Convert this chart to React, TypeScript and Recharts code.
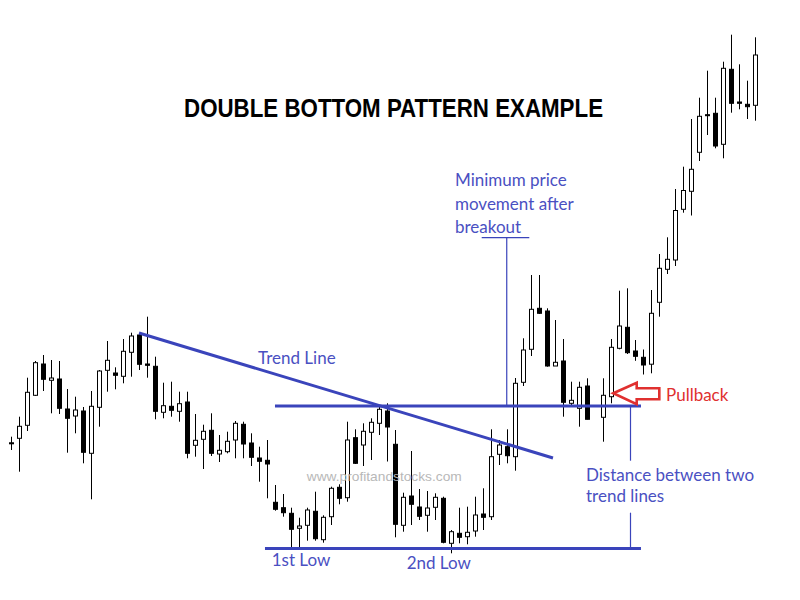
import React from 'react';
import { ComposedChart, Bar, XAxis, YAxis, ReferenceLine, ReferenceDot } from 'recharts';

const idx = [0,1,2,3,4,5,6,7,8,9,10,11,12,13,14,15,16,17,18,19,20,21,22,23,24,25,26,27,28,29,30,31,32,33,34,35,36,37,38,39,40,41,42,43,44,45,46,47,48,49,50,51,52,53,54,55,56,57,58,59,60,61,62,63,64,65,66,67,68,69,70,71,72,74,75,76,77,78,79,80,81,82,83,84,85,86,87,88,89,90,91,92,93];
const opens = [15.72,16.17,17.47,20.47,23.6,21.97,22.1,19.1,18.4,18.9,14.67,19.27,22.97,22.7,22.37,24.77,26.5,23.6,23.37,18.77,19.37,18.87,19.8,15.47,16.07,16.97,14.6,14.83,16.0,17.57,15.7,14.2,13.97,9.77,9.23,8.67,7.17,7.47,8.87,6.03,8.33,11.27,10.23,16.23,15.5,16.77,17.67,18.9,15.57,7.47,10.4,9.3,8.47,9.27,10.17,5.67,6.67,6.33,6.9,8.6,8.33,14.57,15.33,14.33,21.77,25.07,29.17,28.9,23.4,23.9,19.67,19.17,21.4,18.27,20.33,25.17,27.27,24.9,24.27,23.58,29.77,33.07,34.0,39.07,40.87,44.77,48.53,48.67,45.57,53.07,49.8,49.57,49.47];
const highs = [16.33,18.33,22.23,23.9,24.5,24.0,23.9,21.1,20.33,19.3,20.9,23.0,25.9,23.27,26.1,26.73,26.7,28.33,24.33,21.73,21.83,20.83,20.83,18.6,17.53,18.67,16.5,16.83,17.9,17.83,16.67,15.33,16.0,11.5,10.6,9.23,8.23,9.23,10.83,8.47,11.33,11.57,17.83,17.07,17.67,18.17,19.33,19.67,17.0,10.73,14.9,11.1,10.9,10.67,10.33,7.0,9.23,9.33,10.33,11.17,17.07,16.0,17.07,22.2,26.17,32.5,32.5,29.17,28.0,26.1,21.83,21.83,22.17,22.17,26.1,30.93,31.17,26.0,25.05,31.0,34.6,36.27,41.1,43.33,48.1,50.23,52.93,50.23,53.83,56.53,53.57,51.93,56.27];
const lows = [15.0,12.83,16.9,20.4,20.9,18.67,18.6,14.73,16.67,13.67,10.07,17.33,20.83,21.07,21.67,22.33,23.0,22.23,18.07,18.17,18.33,17.83,14.17,14.33,13.1,14.4,13.8,14.67,14.17,14.17,13.4,11.83,10.17,8.93,8.33,5.17,5.17,5.93,5.93,5.73,7.5,9.57,9.83,13.6,13.4,14.0,16.5,13.85,6.27,6.83,7.5,8.0,6.83,8.0,5.67,4.67,5.67,5.57,6.33,7.0,8.0,13.5,13.67,12.93,21.4,24.4,28.6,23.33,23.4,18.33,19.33,17.33,18.07,15.83,19.67,25.07,24.6,23.92,22.55,22.67,28.33,32.6,33.4,38.73,38.45,43.9,46.5,45.17,44.17,48.73,49.07,48.1,47.93];
const closes = [15.68,17.37,20.77,23.73,22.07,22.2,19.17,18.17,19.0,14.77,19.37,22.9,23.97,22.47,24.87,26.4,23.57,23.47,18.87,19.43,18.97,19.63,14.67,15.97,16.87,14.67,14.97,15.87,17.67,15.6,14.27,13.87,13.6,9.07,8.73,7.07,7.4,9.0,6.13,8.27,11.17,10.17,16.0,13.67,16.87,17.77,19.07,17.3,7.57,10.27,9.57,8.37,9.2,10.27,5.77,6.83,6.27,6.77,8.5,8.27,14.33,15.5,14.43,21.67,25.0,29.07,28.67,23.4,23.77,19.77,19.97,21.27,18.07,20.47,25.27,27.4,24.73,24.37,23.5,28.67,33.17,34.07,38.95,40.95,43.07,48.37,48.43,45.4,53.17,49.67,49.67,49.33,54.5];

const data = idx.map((i, n) => ({ i, open: opens[n], high: highs[n], low: lows[n], close: closes[n] }));

const BLUE_LINE = '#3a44bb';
const BLUE_TEXT = '#4a50c2';
const RED = '#e0302f';

function Candle(props: any) {
  const { x, y, width, height, payload } = props;
  if (!payload || x == null || y == null) return null;
  const { open, close, high, low } = payload;
  const cx = Math.round(x + width / 2) + 0.5;
  const top = Math.min(y, y + height);
  const h = Math.abs(height);
  const span = high - low || 1;
  const py = (v: number) => top + ((high - v) / span) * h;
  const yo = py(open);
  const yc = py(close);
  const bt = Math.min(yo, yc);
  let bh = Math.abs(yo - yc);
  if (bh < 1) bh = 1;
  const up = close >= open;
  return (
    <g>
      <line x1={cx} x2={cx} y1={top} y2={top + h} stroke="#000" strokeWidth={1} />
      <rect x={cx - 2} y={bt} width={4} height={bh} fill={up ? '#fff' : '#000'} stroke="#000" strokeWidth={1} />
    </g>
  );
}

const txt = (content: string, style: any) => (p: any) => (
  <text x={p.cx} y={p.cy} {...style}>{content}</text>
);

const blueStyle = { fill: BLUE_TEXT, fontFamily: 'Lato, "Open Sans", sans-serif', fontSize: 17 };

const Arrow = (p: any) => {
  const cx = p.cx, cy = p.cy;
  const pts = [
    [0, 0], [23.4, -10.6], [23.4, -5], [46, -5], [46, 6], [23.4, 6], [23.4, 11],
  ].map(([dx, dy]) => `${cx + dx},${cy + dy}`).join(' ');
  return <polygon points={pts} fill="#fff" stroke={RED} strokeWidth={2.6} strokeLinejoin="miter" />;
};

export default function App() {
  return (
    <div style={{ position: 'absolute', left: 0, top: 0, width: 800, height: 600, background: '#fff' }}>
      <ComposedChart width={800} height={600} data={data} margin={{ top: 0, right: 0, bottom: 0, left: 0 }}>
        <XAxis dataKey="i" type="number" domain={[-1.4125, 98.5875]} allowDataOverflow hide />
        <YAxis type="number" domain={[0, 60]} allowDataOverflow hide />
        <ReferenceDot x={36.93} y={11.93} r={0} ifOverflow="visible"
          shape={txt('www.profitandstocks.com', { fill: '#b8b8b8', fontFamily: '"Liberation Sans", Arial, sans-serif', fontSize: 13, textLength: 155, lengthAdjust: 'spacingAndGlyphs' })} />
        <Bar dataKey={(d: any) => [d.low, d.high]} barSize={6} shape={<Candle />} isAnimationActive={false} />
        <ReferenceLine segment={[{ x: 32.96, y: 19.4 }, { x: 78.71, y: 19.4 }]} stroke={BLUE_LINE} strokeWidth={3} ifOverflow="visible" />
        <ReferenceLine segment={[{ x: 31.71, y: 5.15 }, { x: 78.71, y: 5.15 }]} stroke={BLUE_LINE} strokeWidth={3} ifOverflow="visible" />
        <ReferenceLine segment={[{ x: 15.96, y: 26.7 }, { x: 67.71, y: 14.2 }]} stroke={BLUE_LINE} strokeWidth={3} ifOverflow="visible" />
        <ReferenceLine segment={[{ x: 61.93, y: 36.23 }, { x: 61.93, y: 19.4 }]} stroke={BLUE_LINE} strokeWidth={1.2} ifOverflow="visible" />
        <ReferenceLine segment={[{ x: 58.8, y: 36.23 }, { x: 64.75, y: 36.23 }]} stroke={BLUE_LINE} strokeWidth={1.2} ifOverflow="visible" />
        <ReferenceLine segment={[{ x: 77.4, y: 19.4 }, { x: 77.4, y: 13.93 }]} stroke={BLUE_LINE} strokeWidth={1.2} ifOverflow="visible" />
        <ReferenceLine segment={[{ x: 77.4, y: 8.73 }, { x: 77.4, y: 5.15 }]} stroke={BLUE_LINE} strokeWidth={1.2} ifOverflow="visible" />
        <ReferenceDot x={21.59} y={48.3} r={0} ifOverflow="visible"
          shape={txt('DOUBLE BOTTOM PATTERN EXAMPLE', { fill: '#000', fontFamily: '"Liberation Sans", Arial, sans-serif', fontWeight: 'bold', fontSize: 25, textLength: 419, lengthAdjust: 'spacingAndGlyphs' })} />
        <ReferenceDot x={30.84} y={23.57} r={0} ifOverflow="visible" shape={txt('Trend Line', blueStyle)} />
        <ReferenceDot x={55.46} y={41.4} r={0} ifOverflow="visible" shape={txt('Minimum price', blueStyle)} />
        <ReferenceDot x={55.46} y={39.0} r={0} ifOverflow="visible" shape={txt('movement after', blueStyle)} />
        <ReferenceDot x={55.46} y={36.67} r={0} ifOverflow="visible" shape={txt('breakout', blueStyle)} />
        <ReferenceDot x={71.84} y={11.93} r={0} ifOverflow="visible" shape={txt('Distance between two', blueStyle)} />
        <ReferenceDot x={71.84} y={9.8} r={0} ifOverflow="visible" shape={txt('trend lines', blueStyle)} />
        <ReferenceDot x={32.55} y={3.4} r={0} ifOverflow="visible" shape={txt('1st Low', blueStyle)} />
        <ReferenceDot x={49.42} y={3.1} r={0} ifOverflow="visible" shape={txt('2nd Low', blueStyle)} />
        <ReferenceDot x={81.84} y={19.9} r={0} ifOverflow="visible" shape={txt('Pullback', { ...blueStyle, fill: RED })} />
        <ReferenceDot x={75.25} y={20.67} r={0} ifOverflow="visible" shape={Arrow} />
      </ComposedChart>
    </div>
  );
}
